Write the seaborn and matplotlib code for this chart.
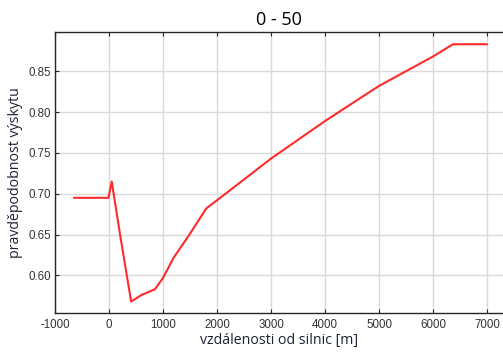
import matplotlib
matplotlib.use("Agg")
import matplotlib.pyplot as plt
import seaborn as sns
import pandas as pd

# distance from roads [m] and probability of occurrence
distance = [-650, -10, 50, 200, 410, 600, 850, 1000, 1200, 1500, 1800,
            2000, 3000, 4000, 5000, 6000, 6370, 7000]
probability = [0.695, 0.695, 0.715, 0.652, 0.568, 0.576, 0.583, 0.597, 0.622,
               0.651, 0.682, 0.692, 0.743, 0.789, 0.832, 0.868, 0.883, 0.883]
x_ticks = [-1000, 0, 1000, 2000, 3000, 4000, 5000, 6000, 7000]
y_ticks = [0.60, 0.65, 0.70, 0.75, 0.80, 0.85]

sns.set_theme(style="whitegrid")
plt.rcParams["font.family"] = ["Liberation Sans", "DejaVu Sans"]

df = pd.DataFrame({"distance": distance, "probability": probability})

fig = plt.figure(figsize=(5.03, 3.56), dpi=100)
ax = fig.add_axes([55 / 503, 43 / 356, 448 / 503, 281 / 356])

sns.lineplot(data=df, x="distance", y="probability", ax=ax,
             color="#ff2a2a", linewidth=1.5, sort=False)

ax.set_xlim(-1000, 7296)
ax.set_ylim(0.554, 0.898)
ax.set_xticks(x_ticks)
ax.set_xticklabels([str(v) for v in x_ticks])
ax.set_yticks(y_ticks)
ax.set_yticklabels([f"{v:.2f}" for v in y_ticks])

ax.grid(True, color="#dadada", linewidth=1.0)
ax.set_facecolor("white")
for side in ("left", "bottom", "top"):
    ax.spines[side].set_visible(True)
    ax.spines[side].set_color("#262626")
    ax.spines[side].set_linewidth(1.0)
ax.spines["right"].set_visible(False)

ax.tick_params(axis="both", direction="in", length=3, width=0.8,
               colors="#262626", labelsize=8.3, labelcolor="#333333")
ax.tick_params(axis="x", top=True, bottom=True, pad=4)
ax.tick_params(axis="y", left=True, right=False, pad=3)

ax.set_xlabel("vzdálenosti od silnic [m]", fontsize=10.2, color="#1a2233",
              family=["Open Sans", "DejaVu Sans"], labelpad=2)
ax.set_ylabel("pravděpodobnost výskytu", fontsize=10.2, color="#1a2233",
              family=["Open Sans", "DejaVu Sans"], labelpad=4)
ax.set_title("0 - 50", fontsize=13, color="black",
             family=["Open Sans", "DejaVu Sans"], pad=5)

fig.savefig("out.png", dpi=100, facecolor="white")
